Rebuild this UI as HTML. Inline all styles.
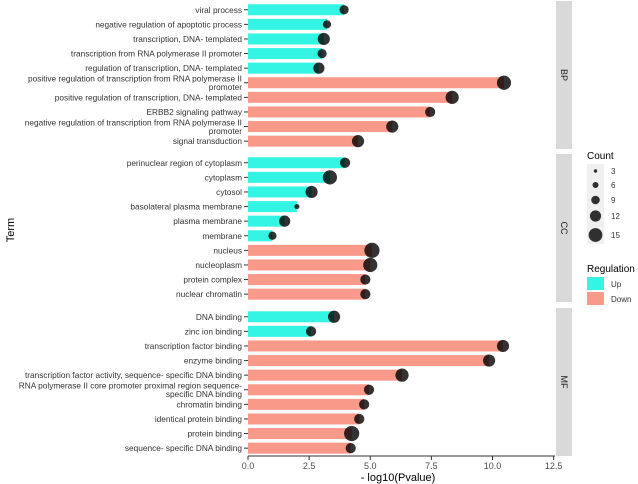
<!DOCTYPE html>
<html><head><meta charset="utf-8"><style>
body{margin:0;background:#fff;}
svg{display:block;font-family:"Liberation Sans",sans-serif;}
</style></head><body>
<svg id="chart" width="638" height="484"></svg>
<script>
const bpTerms=["viral process","negative regulation of apoptotic process","transcription, DNA- templated","transcription from RNA polymerase II promoter","regulation of transcription, DNA- templated","positive regulation of transcription from RNA polymerase II|promoter","positive regulation of transcription, DNA- templated","ERBB2 signaling pathway","negative regulation of transcription from RNA polymerase II|promoter","signal transduction"];
const bpValues=[3.93,3.23,3.1,3.03,2.9,10.47,8.35,7.45,5.9,4.5];
const bpCounts=[9,8,12,9,11,14,13,10,12,12];
const bpReg=["Up","Up","Up","Up","Up","Down","Down","Down","Down","Down"];
const ccTerms=["perinuclear region of cytoplasm","cytoplasm","cytosol","basolateral plasma membrane","plasma membrane","membrane","nucleus","nucleoplasm","protein complex","nuclear chromatin"];
const ccValues=[3.97,3.35,2.6,2.0,1.5,1.0,5.07,5.0,4.8,4.8];
const ccCounts=[10,14,12,5,11,8,15,14,10,10];
const ccReg=["Up","Up","Up","Up","Up","Up","Down","Down","Down","Down"];
const mfTerms=["DNA binding","zinc ion binding","transcription factor binding","enzyme binding","transcription factor activity, sequence- specific DNA binding","RNA polymerase II core promoter proximal region sequence-|specific DNA binding","chromatin binding","identical protein binding","protein binding","sequence- specific DNA binding"];
const mfValues=[3.52,2.58,10.43,9.86,6.3,4.95,4.75,4.55,4.24,4.2];
const mfCounts=[12,10,12,12,13,10,10,10,15,10];
const mfReg=["Up","Up","Down","Down","Down","Down","Down","Down","Down","Down"];
const xTicks=[0,2.5,5,7.5,10,12.5];
const xTickLabels=["0.0","2.5","5.0","7.5","10.0","12.5"];
const legendCounts=[3,6,9,12,15];

const svg=document.getElementById('chart');
const NS="http://www.w3.org/2000/svg";
function mk(tag,attrs,name,inter){const e=document.createElementNS(NS,tag);for(const k in attrs)e.setAttribute(k,attrs[k]);


svg.appendChild(e);return e;}
const X0=248,PX=24.45,xR=555;
const x=v=>X0+v*PX;
const rS=c=>1.6+(c-3)*0.5;
const rL=c=>1.7+(c-3)*0.43;
const col={Up:"#34f5e4",Down:"#f8998a"};
const panels=[{n:"BP",t:bpTerms,v:bpValues,c:bpCounts,r:bpReg,top:1},{n:"CC",t:ccTerms,v:ccValues,c:ccCounts,r:ccReg,top:154},{n:"MF",t:mfTerms,v:mfValues,c:mfCounts,r:mfReg,top:308}];
const step=14.6,ph=148;
panels.forEach(p=>{
  mk('rect',{x:556,y:p.top,width:16,height:ph,fill:"#d9d9d9"},'strip-'+p.n.toLowerCase());
  const st=mk('text',{x:0,y:0,transform:`translate(561,${p.top+ph/2}) rotate(90)`,'font-size':9,'text-anchor':'middle',fill:"#1a1a1a"},'strip-label-'+p.n.toLowerCase());st.textContent=p.n;
  p.t.forEach((t,i)=>{
    const cy=p.top+step*0.6+i*step;
    mk('rect',{x:X0,y:cy-5.5,width:x(p.v[i])-X0,height:11,fill:col[p.r[i]]},'bar-'+p.n.toLowerCase()+'-'+i);
    mk('circle',{cx:x(p.v[i]),cy:cy,r:rS(p.c[i]),fill:"#000",'fill-opacity':0.8},'point-'+p.n.toLowerCase()+'-'+i);
    mk('line',{x1:X0-4,x2:X0,y1:cy,y2:cy,stroke:"#333",'stroke-width':1},'y-tick');
    const lines=t.split('|');
    const tx=mk('text',{x:X0-6,y:0,'font-size':8.3,'text-anchor':'end',fill:"#333"},'term-label');
    lines.forEach((l,j)=>{const ts=document.createElementNS(NS,'tspan');ts.setAttribute('x',X0-6);ts.setAttribute('y',cy+3-(lines.length-1)*4.3+j*8.6);ts.textContent=l;tx.appendChild(ts);});
  });
});
mk('line',{x1:X0,x2:xR,y1:456,y2:456,stroke:"#333",'stroke-width':1},'x-axis-line');
xTicks.forEach((v,i)=>{
  mk('line',{x1:x(v),x2:x(v),y1:456,y2:460,stroke:"#333"},'x-tick');
  const t=mk('text',{x:x(v),y:469,'font-size':9,'text-anchor':'middle',fill:"#4d4d4d"},'x-tick-label');t.textContent=xTickLabels[i];
});
let t=mk('text',{x:398,y:481,'font-size':11,'text-anchor':'middle',fill:"#000"},'x-axis-title');t.textContent="- log10(Pvalue)";
t=mk('text',{x:0,y:0,transform:"translate(14,230) rotate(-90)",'font-size':11,'text-anchor':'middle',fill:"#000"},'y-axis-title');t.textContent="Term";
t=mk('text',{x:587,y:159,'font-size':10,fill:"#000"},'size-legend-title');t.textContent="Count";
mk('rect',{x:587,y:164,width:17,height:80,fill:"#f0f0f0"},'size-legend-keys');
const ly=[171,185,200,216,235];
legendCounts.forEach((c,i)=>{
  mk('circle',{cx:595.5,cy:ly[i],r:rL(c),fill:"#000",'fill-opacity':0.8},'size-legend-dot');
  const tt=mk('text',{x:611,y:ly[i]+3,'font-size':8,fill:"#333"},'size-legend-label');tt.textContent=c;
});
t=mk('text',{x:587,y:272,'font-size':10,fill:"#000"},'color-legend-title');t.textContent="Regulation";
mk('rect',{x:587,y:277,width:17,height:13,fill:col.Up},'legend-up-key');
t=mk('text',{x:611,y:287,'font-size':8,fill:"#333"},'legend-up-label');t.textContent="Up";
mk('rect',{x:587,y:292,width:17,height:13,fill:col.Down},'legend-down-key');
t=mk('text',{x:611,y:302,'font-size':8,fill:"#333"},'legend-down-label');t.textContent="Down";
</script>
</body></html>
